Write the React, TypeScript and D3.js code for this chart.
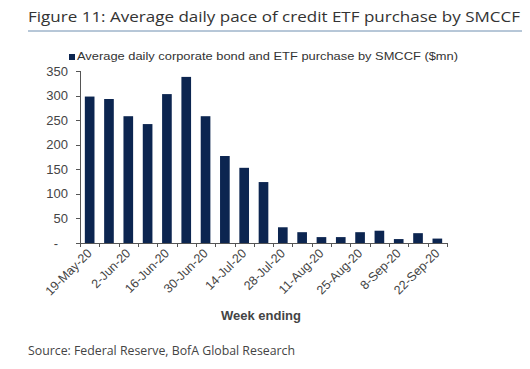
import * as d3 from 'd3';
import React, { useEffect, useRef } from 'react';

const weeks = [
  '19-May-20', '26-May-20', '2-Jun-20', '9-Jun-20', '16-Jun-20', '23-Jun-20', '30-Jun-20',
  '7-Jul-20', '14-Jul-20', '21-Jul-20', '28-Jul-20', '4-Aug-20', '11-Aug-20', '18-Aug-20',
  '25-Aug-20', '1-Sep-20', '8-Sep-20', '15-Sep-20', '22-Sep-20',
];
const purchases = [298, 293, 258, 242, 303, 338, 258, 177, 153, 124, 32, 22, 12, 12, 22, 25, 8, 20, 9];
const yTicks = [0, 50, 100, 150, 200, 250, 300, 350];

const barColor = '#0c2550';
const font = 'Liberation Sans, Arial, sans-serif';

function App() {
  const ref = useRef<SVGSVGElement>(null);

  useEffect(() => {
    const svg = d3.select(ref.current);
    svg.selectAll('*').remove();

    // titel + linie
    svg.append('text')
      .attr('x', 28).attr('y', 22)
      .attr('font-family', 'Open Sans, sans-serif')
      .attr('font-size', 15)
      .attr('fill', '#333')
      .attr('textLength', 492)
      .attr('lengthAdjust', 'spacingAndGlyphs')
      .text('Figure 11: Average daily pace of credit ETF purchase by SMCCF');
    svg.append('line')
      .attr('x1', 28).attr('x2', 522).attr('y1', 31).attr('y2', 31)
      .attr('stroke', '#6f8fb0').attr('stroke-width', 1);

    const x = d3.scaleBand<string>().domain(weeks).range([80, 447]).paddingInner(0.5).paddingOuter(0.25);
    const y = d3.scaleLinear().domain([0, 350]).range([243, 71]);

    // legende
    svg.append('rect').attr('x', 69).attr('y', 54).attr('width', 6).attr('height', 6).attr('fill', barColor);
    svg.append('text')
      .attr('x', 77).attr('y', 60)
      .attr('font-family', font).attr('font-size', 11).attr('fill', '#333')
      .attr('textLength', 381).attr('lengthAdjust', 'spacingAndGlyphs')
      .text('Average daily corporate bond and ETF purchase by SMCCF ($mn)');

    const g = svg.append('g');

    g.selectAll('rect.bar')
      .data(purchases)
      .enter()
      .append('rect')
      .attr('class', 'bar')
      .attr('x', (d, i) => x(weeks[i])!)
      .attr('width', x.bandwidth())
      .attr('y', d => y(d))
      .attr('height', d => y(0) - y(d))
      .attr('fill', barColor);

    // y-achse
    g.append('line')
      .attr('x1', 80.5).attr('x2', 80.5).attr('y1', y(350)).attr('y2', y(0))
      .attr('stroke', '#555');
    yTicks.forEach(t => {
      g.append('line')
        .attr('x1', 76).attr('x2', 80).attr('y1', Math.round(y(t)) + 0.5).attr('y2', Math.round(y(t)) + 0.5)
        .attr('stroke', '#555');
      g.append('text')
        .attr('x', t === 0 ? 58 : 68).attr('y', y(t) + 4.5)
        .attr('text-anchor', 'end')
        .attr('font-family', font).attr('font-size', 13).attr('fill', '#444')
        .text(t === 0 ? '-' : String(t));
    });

    // x-achse
    g.append('line')
      .attr('x1', 76).attr('x2', 447).attr('y1', Math.round(y(0)) + 0.5).attr('y2', Math.round(y(0)) + 0.5)
      .attr('stroke', '#555');
    const step = x.step();
    d3.range(weeks.length + 1).forEach(i => {
      const px = Math.round(80 + i * step) + 0.5;
      g.append('line')
        .attr('x1', px).attr('x2', px).attr('y1', y(0)).attr('y2', y(0) + 4)
        .attr('stroke', '#555');
    });

    weeks.forEach((w, i) => {
      if (i % 2 !== 0) return;
      const cx = x(w)! + x.bandwidth() / 2 + 3;
      g.append('text')
        .attr('transform', `translate(${cx},${y(0) + 11}) rotate(-45)`)
        .attr('text-anchor', 'end')
        .attr('font-family', font).attr('font-size', 12.5).attr('fill', '#444')
        .text(w);
    });

    svg.append('text')
      .attr('x', 261).attr('y', 320)
      .attr('text-anchor', 'middle')
      .attr('font-family', font).attr('font-size', 13).attr('font-weight', 'bold').attr('fill', '#444')
      .text('Week ending');

    svg.append('text')
      .attr('x', 28).attr('y', 355)
      .attr('font-family', 'Open Sans, sans-serif').attr('font-size', 12).attr('fill', '#444')
      .attr('textLength', 267).attr('lengthAdjust', 'spacingAndGlyphs')
      .text('Source: Federal Reserve, BofA Global Research');
  }, []);

  return (
    <svg ref={ref} width={530} height={369} style={{ position: 'absolute', left: 0, top: 0, background: '#fff' }} />
  );
}

export default App;
